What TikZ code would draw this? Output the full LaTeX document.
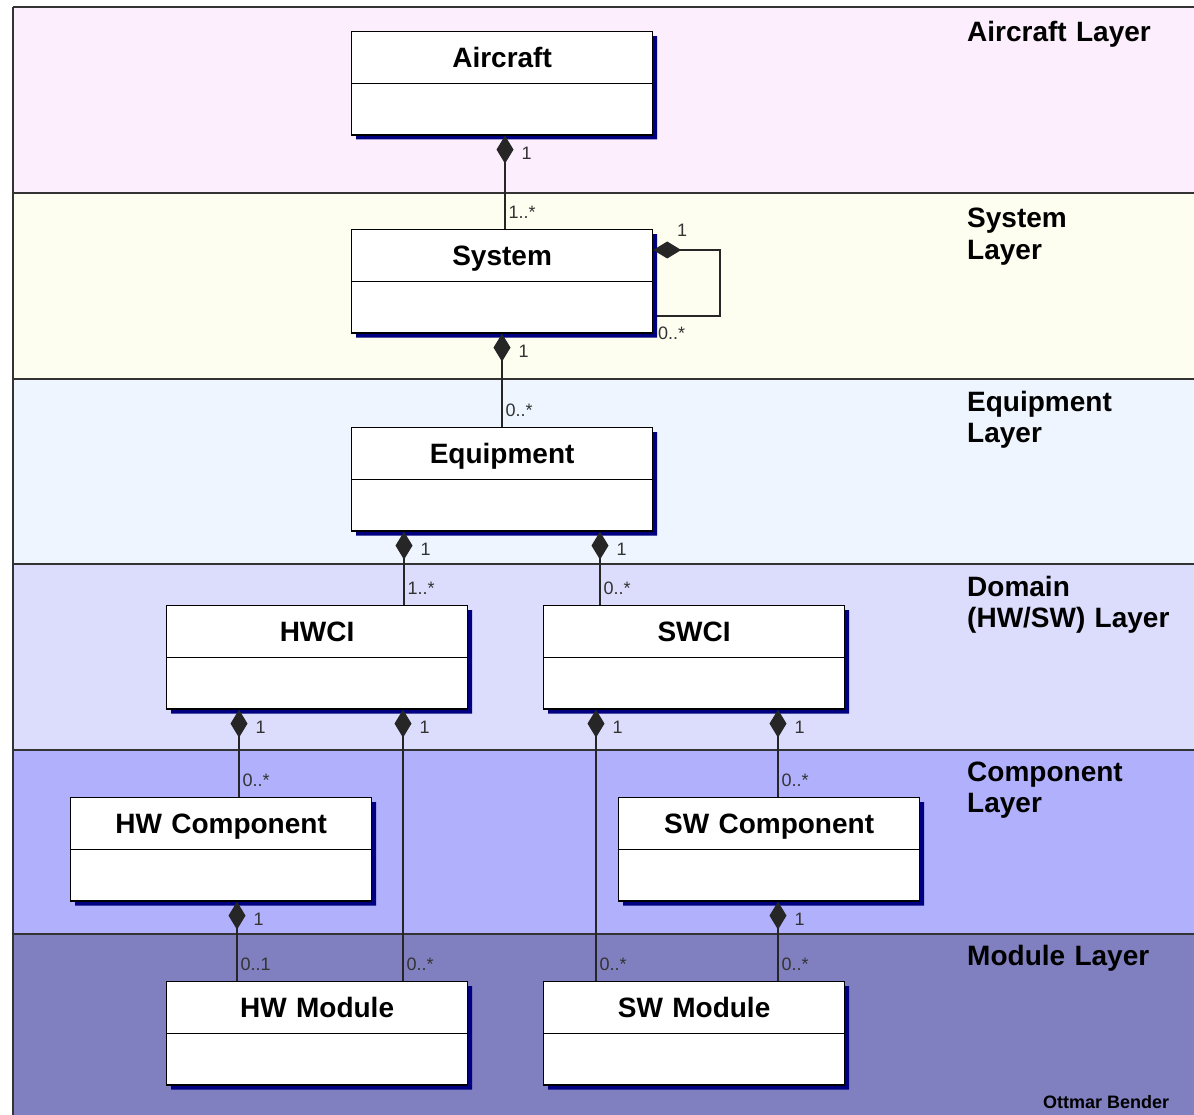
\documentclass[tikz,border=0pt]{standalone}
\usepackage{fontspec}
\setmainfont{Liberation Sans}
\usetikzlibrary{arrows.meta,shapes.multipart,shadows}

\definecolor{aircraftbg}{HTML}{FCEEFC}
\definecolor{systembg}{HTML}{FEFEF0}
\definecolor{equipbg}{HTML}{EEF5FE}
\definecolor{domainbg}{HTML}{DCDCFC}
\definecolor{compbg}{HTML}{B0B0FC}
\definecolor{modulebg}{HTML}{8080C0}
\definecolor{shadownavy}{HTML}{000080}

\begin{document}
\begin{tikzpicture}[x=1pt,y=-1pt,
  layerline/.style={draw=black!80, line width=1.5pt},
  umlclass/.style={rectangle split, rectangle split parts=2, draw=black,
    line width=1.2pt, fill=white, inner sep=0pt, text width=301pt,
    align=center, anchor=north west,
    font=\fontsize{28}{32}\selectfont\bfseries,
    drop shadow={shadow xshift=4.5pt, shadow yshift=-4.5pt,
      fill=shadownavy, opacity=1}},
  layerlabel/.style={anchor=base west, inner sep=0pt, text width=230pt,
    align=left, font=\fontsize{28}{31.5}\selectfont\bfseries},
  comp/.style={draw=black!85, line width=1.2pt,
    {Diamond[length=28pt,width=17pt]}-},
  mult/.style={inner sep=0pt, text=black!80,
    font=\fontsize{18}{20}\selectfont},
  one/.style={mult, anchor=west, xshift=16pt, yshift=-17.5pt},
  many/.style={mult, anchor=west, xshift=3pt, yshift=16.5pt}
]
\useasboundingbox (0,0) rectangle (1194,1115);

% layer bands
\fill[aircraftbg] (13,7)   rectangle (1194,193);
\fill[systembg]   (13,193) rectangle (1194,379);
\fill[equipbg]    (13,379) rectangle (1194,564);
\fill[domainbg]   (13,564) rectangle (1194,750);
\fill[compbg]     (13,750) rectangle (1194,934);
\fill[modulebg]   (13,934) rectangle (1194,1115);
\foreach \yy in {7,193,379,564,750,934}
  \draw[layerline] (13,\yy) -- (1194,\yy);
\draw[layerline] (13,7) -- (13,1115);

% layer titles
\node[layerlabel] (lairc) at (967,42)  {Aircraft Layer};
\node[layerlabel] (lsys)  at (967,228) {System\\Layer};
\node[layerlabel] (lequ)  at (967,411) {Equipment\\Layer};
\node[layerlabel] (ldom)  at (967,596) {Domain\\(HW/SW) Layer};
\node[layerlabel] (lcomp) at (967,781) {Component\\Layer};
\node[layerlabel] (lmod)  at (967,965) {Module Layer};
\node[anchor=base west, inner sep=0pt, font=\fontsize{18}{20}\selectfont\bfseries]
  (author) at (1043,1108) {Ottmar Bender};

% classes
\node[umlclass] (aircraft) at (351,31)
  {\rule[-16pt]{0pt}{51pt}Aircraft\nodepart{second}\rule{0pt}{50pt}};
\node[umlclass] (system) at (351,229)
  {\rule[-16pt]{0pt}{51pt}System\nodepart{second}\rule{0pt}{50pt}};
\node[umlclass] (equipment) at (351,427)
  {\rule[-16pt]{0pt}{51pt}Equipment\nodepart{second}\rule{0pt}{50pt}};
\node[umlclass] (hwci) at (166,605)
  {\rule[-16pt]{0pt}{51pt}HWCI\nodepart{second}\rule{0pt}{50pt}};
\node[umlclass] (swci) at (543,605)
  {\rule[-16pt]{0pt}{51pt}SWCI\nodepart{second}\rule{0pt}{50pt}};
\node[umlclass] (hwcomp) at (70,797)
  {\rule[-16pt]{0pt}{51pt}HW Component\nodepart{second}\rule{0pt}{50pt}};
\node[umlclass] (swcomp) at (618,797)
  {\rule[-16pt]{0pt}{51pt}SW Component\nodepart{second}\rule{0pt}{50pt}};
\node[umlclass] (hwmod) at (166,981)
  {\rule[-16pt]{0pt}{51pt}HW Module\nodepart{second}\rule{0pt}{50pt}};
\node[umlclass] (swmod) at (543,981)
  {\rule[-16pt]{0pt}{51pt}SW Module\nodepart{second}\rule{0pt}{50pt}};

% composition associations
\draw[comp] (aircraft.south -| 505,0) -- node[one, pos=0] (m1a) {1}
  node[many, pos=1] (m1b) {1..*} (system.north -| 505,0);
\draw[comp] (system.south -| 502,0) -- node[one, pos=0] (m2a) {1}
  node[many, pos=1] (m2b) {0..*} (equipment.north -| 502,0);
\draw[comp] (equipment.south -| 404,0) -- node[one, pos=0] (m3a) {1}
  node[many, pos=1] (m3b) {1..*} (hwci.north -| 404,0);
\draw[comp] (equipment.south -| 600,0) -- node[one, pos=0] (m4a) {1}
  node[many, pos=1] (m4b) {0..*} (swci.north -| 600,0);
\draw[comp] (hwci.south -| 239,0) -- node[one, pos=0] (m5a) {1}
  node[many, pos=1] (m5b) {0..*} (hwcomp.north -| 239,0);
\draw[comp] (hwci.south -| 403,0) -- node[one, pos=0] (m6a) {1}
  node[many, pos=1] (m6b) {0..*} (hwmod.north -| 403,0);
\draw[comp] (swci.south -| 596,0) -- node[one, pos=0] (m7a) {1}
  node[many, pos=1] (m7b) {0..*} (swmod.north -| 596,0);
\draw[comp] (swci.south -| 778,0) -- node[one, pos=0] (m8a) {1}
  node[many, pos=1] (m8b) {0..*} (swcomp.north -| 778,0);
\draw[comp] (hwcomp.south -| 237,0) -- node[one, pos=0] (m9a) {1}
  node[many, pos=1] (m9b) {0..1} (hwmod.north -| 237,0);
\draw[comp] (swcomp.south -| 778,0) -- node[one, pos=0] (m10a) {1}
  node[many, pos=1] (m10b) {0..*} (swmod.north -| 778,0);

% recursive composition of systems
\draw[comp] (system.east |- 0,250) -- (720,250) -- (720,316)
  -- ([xshift=4pt]system.east |- 0,316);
\node[mult, anchor=west] (m11a) at (677,230) {1};
\node[mult, anchor=west] (m11b) at (658,333) {0..*};
\end{tikzpicture}
\end{document}
